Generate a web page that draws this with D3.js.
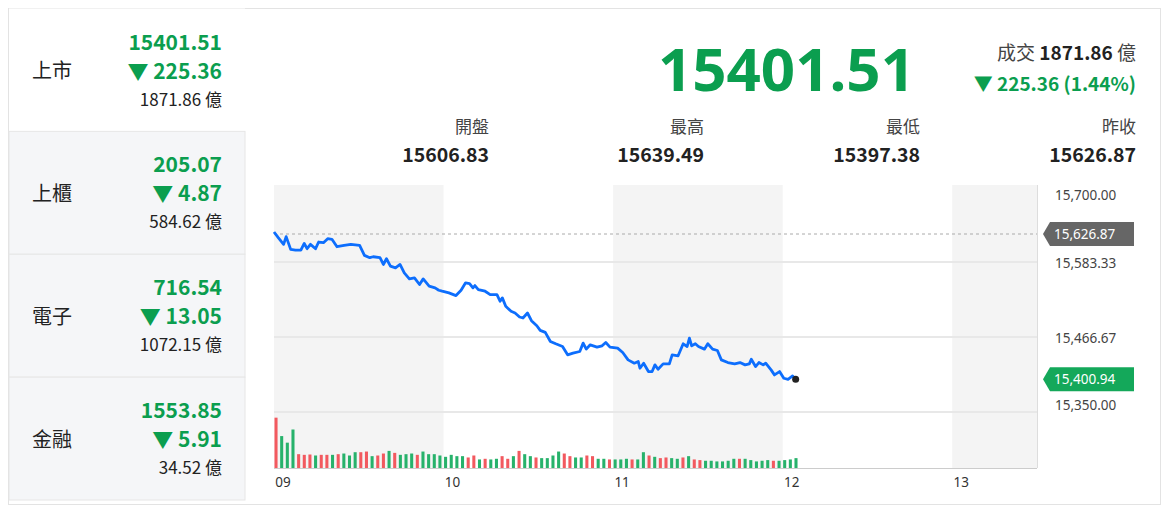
<!DOCTYPE html><html><head><meta charset="utf-8">
<script src="https://cdn.jsdelivr.net/npm/d3@7"></script>
<style>body{margin:0;background:#fff;font-family:"Noto Sans CJK TC","Noto Sans",sans-serif}</style></head><body>
<svg id="c" width="1167" height="511"></svg>
<script>
const marketNames=["上市","上櫃","電子","金融"];
const marketIdx=["15401.51","205.07","716.54","1553.85"];
const marketChg=["225.36","4.87","13.05","5.91"];
const marketVol=["1871.86","584.62","1072.15","34.52"];
const statLabels=["開盤","最高","最低","昨收"];
const statValues=["15606.83","15639.49","15397.38","15626.87"];
const lastPrice=15401.51, prevClose=15626.87, lastTick=15400.94;
const yTicks=[15700,15583.33,15466.67,15350];
const hourLabels=["09","10","11","12","13"];
const priceMin=[0,1.5,3.4,4.3,5.9,7.6,9.5,10.7,11.7,12.9,14.7,15.8,17.5,19.0,20.5,22.3,24.8,27.2,30.3,32.0,33.9,35.1,37.5,38.7,39.8,41.2,43.0,44.6,46.1,47.9,49.7,51.5,52.8,54.9,57.0,58.3,59.5,61.9,64.4,66.2,67.8,69.2,70.4,71.1,72.3,74.7,76.5,78.9,80.0,80.8,82.0,83.9,85.3,86.9,88.1,89.7,91.1,93.0,94.2,96.0,97.8,99.7,102.1,103.9,105.8,108.2,109.4,110.5,111.9,114.3,116.1,117.4,118.9,121.6,123.4,125.3,127.5,128.9,129.5,130.8,132.5,133.8,134.8,135.9,137.7,139.9,140.9,143.0,144.8,146.2,147.0,147.8,149.1,150.2,152.3,153.5,155.2,156.9,158.3,160.6,163.0,164.9,166.7,168.2,168.9,170.4,171.6,173.1,174.0,175.9,177.1,178.9,180.4,181.9,183.5,184.6];
const priceVal=[15630.0,15621.2,15610.8,15622.8,15603.0,15601.9,15601.9,15612.3,15604.0,15610.8,15604.0,15614.4,15613.4,15619.6,15618.6,15607.1,15609.2,15610.8,15609.2,15593.6,15590.0,15591.5,15590.0,15579.5,15588.4,15576.9,15574.3,15579.5,15566.5,15557.1,15558.7,15548.3,15557.1,15545.7,15543.1,15539.4,15537.9,15535.3,15531.1,15539.4,15550.9,15549.8,15543.1,15546.7,15540.5,15537.9,15532.7,15532.7,15522.3,15527.5,15514.4,15506.6,15504.0,15497.8,15496.2,15504.0,15492.0,15484.2,15476.9,15473.8,15459.7,15456.1,15451.9,15438.9,15441.5,15444.1,15457.1,15447.8,15454.5,15450.9,15453.0,15458.2,15450.9,15449.3,15442.5,15431.1,15425.9,15428.5,15418.1,15425.9,15412.9,15412.9,15423.3,15416.5,15424.9,15424.9,15438.9,15437.4,15456.1,15451.9,15465.0,15453.0,15456.1,15451.9,15447.8,15456.1,15447.8,15445.7,15431.1,15426.9,15424.9,15426.9,15423.3,15424.9,15432.1,15420.7,15426.9,15423.3,15425.9,15415.5,15407.7,15412.9,15402.5,15400.9,15406.1,15400.94];
const volumes=[153,97,77,117,42,40,41,38,40,40,40,42,44,38,48,48,50,36,38,44,52,46,40,42,44,40,50,42,42,38,34,40,36,36,32,38,26,28,26,28,36,28,36,52,42,36,32,30,30,38,50,44,36,32,32,38,36,28,28,26,26,26,28,26,26,48,38,34,30,32,30,28,32,36,26,24,22,22,20,20,22,28,28,28,24,20,22,24,22,22,24,26,30];
const volUp="rggg rrrgrrgrgggrrgrrgrgggrggggggggrrgrggrrgrggrggggrrggrrggrgggrggrgrrggrgrrggggggrgggggrgggg".replace(/ /g,"");
const GREEN="#0b9e4f",RED="#f2595f",VG="#27b26b";
const svg=d3.select("#c");
svg.append("rect").attr("x",8.5).attr("y",8.5).attr("width",1152).attr("height",496).attr("fill","#fff").attr("stroke","#e3e3e3");
const rowY=d3.scaleBand().domain(d3.range(4)).range([8.5,500]);
marketNames.forEach((n,i)=>{
 const y0=rowY(i),h=rowY.bandwidth();
 svg.append("rect").attr("x",9).attr("y",y0).attr("width",236).attr("height",h).attr("fill",i?"#f5f6f8":"#fff").attr("stroke",i?"#e6e6e6":"none");
 svg.append("text").attr("x",32).attr("y",y0+h/2+8).attr("font-size",20).attr("fill","#222").text(n);
 svg.append("text").attr("x",222).attr("y",y0+41).attr("text-anchor","end").attr("font-size",21).attr("font-weight","bold").attr("fill",GREEN).text(marketIdx[i]);
 svg.append("text").attr("x",222).attr("y",y0+70).attr("text-anchor","end").attr("font-size",21).attr("font-weight","bold").attr("fill",GREEN).text("▼ "+marketChg[i]);
 svg.append("text").attr("x",222).attr("y",y0+97).attr("text-anchor","end").attr("font-size",17).attr("fill","#222").text(marketVol[i]+" 億");
});
svg.append("text").attr("x",915).attr("y",91).attr("text-anchor","end").attr("font-size",60).attr("font-weight","bold").attr("fill",GREEN).attr("font-family","Noto Sans").text(lastPrice.toFixed(2));
const t1=svg.append("text").attr("x",1136).attr("y",60).attr("text-anchor","end").attr("font-size",19).attr("fill","#444");
t1.append("tspan").text("成交 ");t1.append("tspan").attr("font-weight","bold").attr("fill","#222").text(marketVol[0]);t1.append("tspan").text(" 億");
svg.append("text").attr("x",1136).attr("y",91).attr("text-anchor","end").attr("font-size",19).attr("font-weight","bold").attr("fill",GREEN).text("▼ 225.36 (1.44%)");
const sx=[489,704,920,1136];
statLabels.forEach((l,i)=>{
 svg.append("text").attr("x",sx[i]).attr("y",133).attr("text-anchor","end").attr("font-size",17).attr("fill","#444").text(l);
 svg.append("text").attr("x",sx[i]).attr("y",162).attr("text-anchor","end").attr("font-size",19.5).attr("font-weight","bold").attr("fill","#222").text(statValues[i]);
});
const x=d3.scaleLinear().domain([0,270]).range([274,1037]);
const y=d3.scaleLinear().domain([15350,15700]).range([412,187]);
const yv=d3.scaleLinear().domain([0,155]).range([468,417]);
[0,2,4].forEach(h=>{const e=Math.min(h+1,4.5);svg.append("rect").attr("x",x(h*60)).attr("y",185).attr("width",x(e*60)-x(h*60)).attr("height",283).attr("fill","#f4f4f4");});
yTicks.slice(1,3).forEach(v=>svg.append("line").attr("x1",274).attr("x2",1037).attr("y1",y(v)).attr("y2",y(v)).attr("stroke","#e8e8e8").attr("stroke-width",2));
svg.append("line").attr("x1",274).attr("x2",1037).attr("y1",412).attr("y2",412).attr("stroke","#e8e8e8").attr("stroke-width",2);
svg.append("line").attr("x1",274).attr("x2",1037).attr("y1",468.5).attr("y2",468.5).attr("stroke","#ccc");
svg.append("line").attr("x1",1037.5).attr("x2",1037.5).attr("y1",185).attr("y2",468).attr("stroke","#ddd");
svg.append("line").attr("x1",274).attr("x2",1037).attr("y1",y(prevClose)).attr("y2",y(prevClose)).attr("stroke","#aaa").attr("stroke-dasharray","3,3");
volumes.forEach((v,i)=>svg.append("rect").attr("x",x(i*2)+0.5).attr("y",yv(v)).attr("width",x(2)-x(0)-2.6).attr("height",468-yv(v)).attr("fill",volUp[i]==="r"?RED:VG));
const pts=priceMin.map((m,i)=>[m,priceVal[i]]);
svg.append("path").attr("d",d3.line().x(d=>x(d[0])).y(d=>y(d[1]))(pts)).attr("fill","none").attr("stroke","#0d6efd").attr("stroke-width",2.8).attr("stroke-linejoin","round");
const last=pts[pts.length-1];
svg.append("circle").attr("cx",x(last[0])).attr("cy",y(last[1])).attr("r",3.5).attr("fill","#222");
const yl=[195,263,338,405];
yTicks.forEach((v,i)=>svg.append("text").attr("x",1055).attr("y",yl[i]+5).attr("font-size",13.5).attr("fill","#444").attr("font-family","Noto Sans").text(d3.format(",.2f")(v)));
function tag(v,col){const cy=y(v);
 svg.append("path").attr("d",`M1043,${cy} L1050,${cy-12} H1134 V${cy+12} H1050 Z`).attr("fill",col);
 svg.append("text").attr("x",1054).attr("y",cy+5).attr("font-size",13.5).attr("fill","#fff").attr("font-family","Noto Sans").text(d3.format(",.2f")(v));}
tag(prevClose,"#666");tag(lastTick,"#14a85a");
hourLabels.forEach((h,i)=>svg.append("text").attr("x",x(i*60)+9).attr("y",487).attr("text-anchor","middle").attr("font-size",13.5).attr("fill","#333").attr("font-family","Noto Sans").text(h));
</script></body></html>
